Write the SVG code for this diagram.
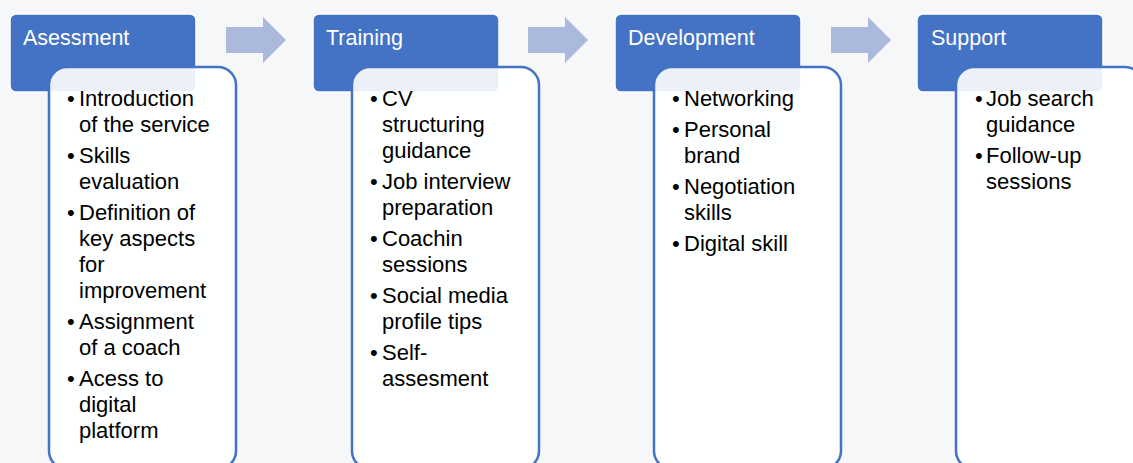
<svg xmlns="http://www.w3.org/2000/svg" width="1133" height="463" viewBox="0 0 1133 463">
<style>
.hdr{fill:#4472C4;stroke:#ffffff;stroke-width:1.5}
.body{fill:#ffffff;fill-opacity:0.9;stroke:#4472C4;stroke-width:2.5}
.ht{font-family:"Liberation Sans",Arial,sans-serif;font-size:21.5px;fill:#ffffff}
.bt{font-family:"Liberation Sans",Arial,sans-serif;font-size:22px;fill:#000000}
.arr{fill:#ABB9DD}
</style>
<rect x="0" y="0" width="1133" height="463" fill="#f6f7f9"/>
<g id="connectors">
<path class="arr" d="M226,27 H263 V17 L286,40 L263,63 V53 H226 Z"/>
<path class="arr" d="M528,27 H565 V17 L588,40 L565,63 V53 H528 Z"/>
<path class="arr" d="M831,27 H868 V17 L891,40 L868,63 V53 H831 Z"/>
</g>
<g id="assessment">
<rect class="hdr" x="10" y="14" width="186" height="78" rx="6"/>
<text class="ht" x="23" y="45">Asessment</text>
<rect class="body" x="49" y="67" width="187" height="402" rx="18"/>
<g class="bt">
<text x="67" y="106">•</text><text x="79" y="106">Introduction</text>
<text x="79" y="132">of the service</text>
<text x="67" y="163">•</text><text x="79" y="163">Skills</text>
<text x="79" y="189">evaluation</text>
<text x="67" y="220">•</text><text x="79" y="220">Definition of</text>
<text x="79" y="246">key aspects</text>
<text x="79" y="272">for</text>
<text x="79" y="298">improvement</text>
<text x="67" y="329">•</text><text x="79" y="329">Assignment</text>
<text x="79" y="355">of a coach</text>
<text x="67" y="386">•</text><text x="79" y="386">Acess to</text>
<text x="79" y="412">digital</text>
<text x="79" y="438">platform</text>
</g>
</g>
<g id="training">
<rect class="hdr" x="313" y="14" width="186" height="78" rx="6"/>
<text class="ht" x="326" y="45">Training</text>
<rect class="body" x="352" y="67" width="187" height="402" rx="18"/>
<g class="bt">
<text x="370" y="106">•</text><text x="382" y="106">CV</text>
<text x="382" y="132">structuring</text>
<text x="382" y="158">guidance</text>
<text x="370" y="189">•</text><text x="382" y="189">Job interview</text>
<text x="382" y="215">preparation</text>
<text x="370" y="246">•</text><text x="382" y="246">Coachin</text>
<text x="382" y="272">sessions</text>
<text x="370" y="303">•</text><text x="382" y="303">Social media</text>
<text x="382" y="329">profile tips</text>
<text x="370" y="360">•</text><text x="382" y="360">Self-</text>
<text x="382" y="386">assesment</text>
</g>
</g>
<g id="development">
<rect class="hdr" x="615" y="14" width="186" height="78" rx="6"/>
<text class="ht" x="628" y="45">Development</text>
<rect class="body" x="654" y="67" width="187" height="402" rx="18"/>
<g class="bt">
<text x="672" y="106">•</text><text x="684" y="106">Networking</text>
<text x="672" y="137">•</text><text x="684" y="137">Personal</text>
<text x="684" y="163">brand</text>
<text x="672" y="194">•</text><text x="684" y="194">Negotiation</text>
<text x="684" y="220">skills</text>
<text x="672" y="251">•</text><text x="684" y="251">Digital skill</text>
</g>
</g>
<g id="support">
<rect class="hdr" x="917" y="14" width="186" height="78" rx="6"/>
<text class="ht" x="931" y="45">Support</text>
<rect class="body" x="956" y="67" width="187" height="402" rx="18"/>
<g class="bt">
<text x="975" y="106">•</text><text x="986" y="106">Job search</text>
<text x="986" y="132">guidance</text>
<text x="975" y="163">•</text><text x="986" y="163">Follow-up</text>
<text x="986" y="189">sessions</text>
</g>
</g>
</svg>
